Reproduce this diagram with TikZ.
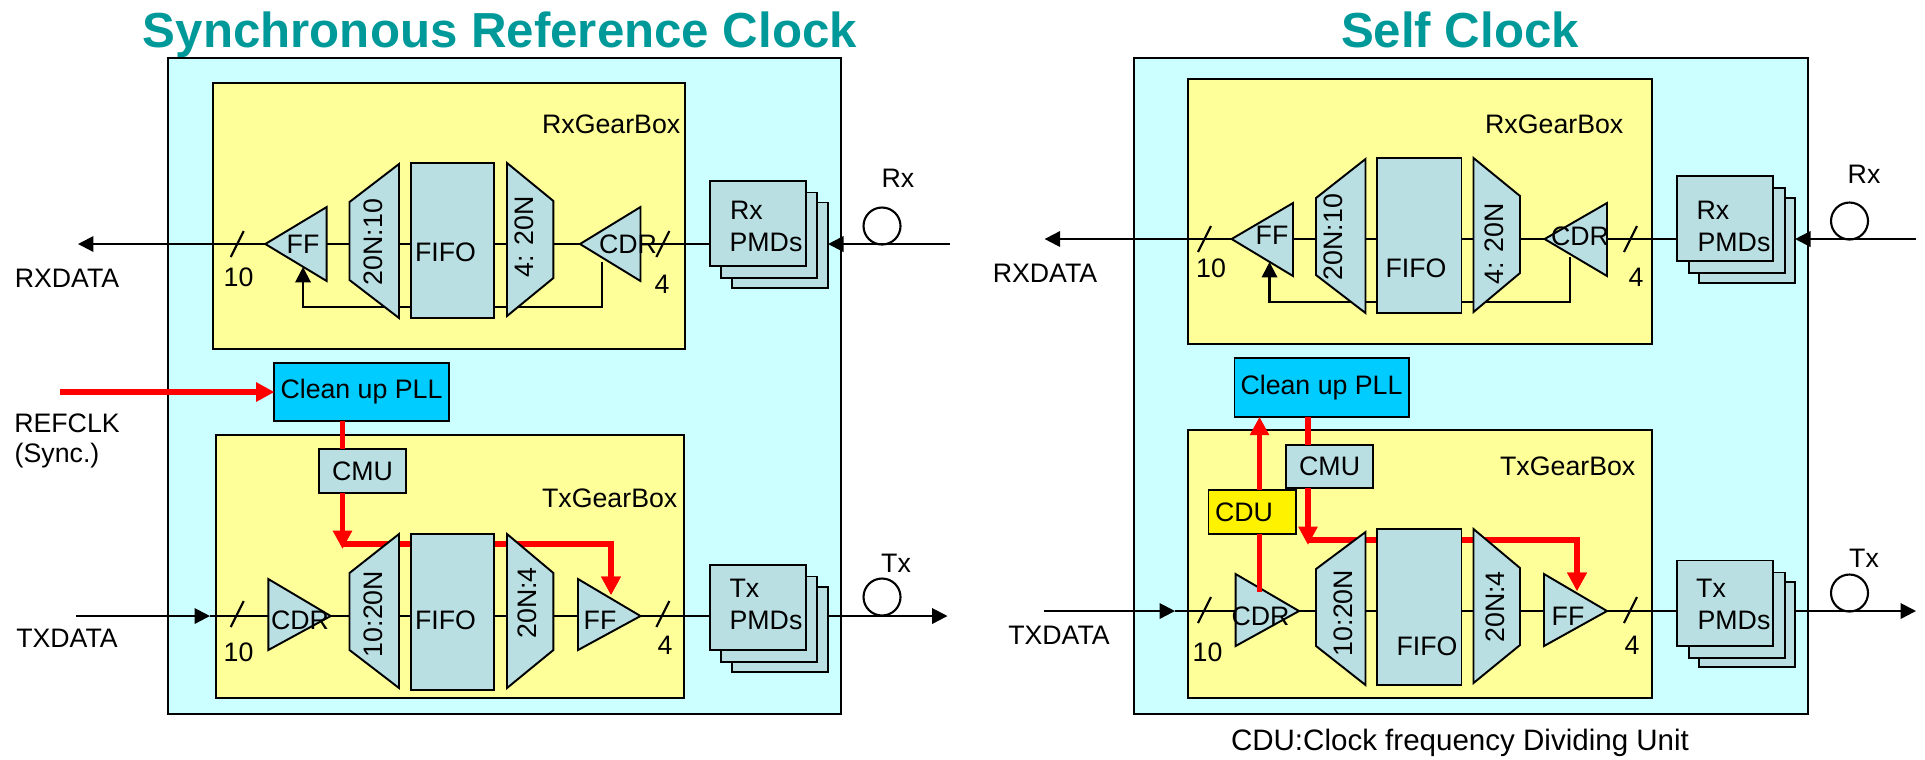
\documentclass[tikz,border=0pt]{standalone}
\usepackage{fontspec}
\setmainfont{Liberation Sans}
\usetikzlibrary{arrows.meta}
\definecolor{panelcol}{HTML}{CCFFFF}
\definecolor{gearcol}{HTML}{FFFF99}
\definecolor{partcol}{HTML}{B9DFE3}
\definecolor{pllcol}{HTML}{00CCFF}
\definecolor{titlecol}{HTML}{009999}

\begin{document}
\begin{tikzpicture}[x=0.01cm, y=-0.01cm, >={Triangle[length=4.4pt,width=4.4pt]},
    lbl/.style={inner sep=0pt, font=\fontsize{7.6}{9}\selectfont},
    title/.style={inner sep=0pt, anchor=base, text=titlecol, font=\fontsize{14}{16}\selectfont\bfseries},
    box/.style={draw=black, line width=0.55pt, inner sep=0pt, outer sep=0pt},
    panel/.style={box, fill=panelcol, minimum width=6.73cm, minimum height=6.56cm},
    gear/.style={box, fill=gearcol},
    part/.style={draw=black, line width=0.55pt, fill=partcol},
    pmd/.style={box, fill=partcol, minimum width=0.96cm, minimum height=0.85cm},
    pll/.style={box, fill=pllcol, minimum width=1.74cm, minimum height=0.585cm, font=\fontsize{7.6}{9}\selectfont},
    cmu/.style={box, fill=partcol, minimum width=0.87cm, minimum height=0.435cm, font=\fontsize{7.6}{9}\selectfont},
    wire/.style={line width=0.6pt},
    clk/.style={red, line width=1.6pt, -{Triangle[length=5.2pt,width=5.2pt]}},
    clkline/.style={red, line width=1.6pt}]
  \useasboundingbox (0,0) rectangle (1925,759);
  % left: synchronous reference clock
  \begin{scope}
    \node[title] (ltitle) at (500,47) {Synchronous Reference Clock};
    \node[panel] (lpanel) at (504.5,386) {};
    \node[gear, minimum width=4.715cm, minimum height=2.66cm] (lrxgear) at (448.8,216) {};
    \node[gear, minimum width=4.68cm, minimum height=2.63cm] (ltxgear) at (450,566.5) {};
    \node[pll] (lpll) at (361.5,392) {Clean up PLL};
    \node[cmu] (lcmu) at (362.5,471) {CMU};
    \node[pmd] (lrxc) at (780,245) {};
    \node[pmd] (lrxb) at (769,235) {};
    \node[pmd] (lrxa) at (758,223.5) {};
    \node[pmd] (ltxc) at (780,629.5) {};
    \node[pmd] (ltxb) at (769,619) {};
    \node[pmd] (ltxa) at (758,607.5) {};
    \coordinate (lrxin) at (950,244);
    \coordinate (lrxout) at (78,244);
    \coordinate (ltxin) at (76,616);
    \coordinate (ltxgo) at (210,616);
    \coordinate (ltxout) at (947.5,616);
    \coordinate (lrefin) at (60,392);
    \coordinate (lcmuend) at (342.5,549);
    \coordinate (lturn) at (342.5,544);
    \coordinate (lffin) at (611,595);
    \draw[wire, ->] (lrxin) -- (lrxc.east |- lrxin);
    \draw[wire, ->] (lrxa.west |- lrxout) -- (lrxout);
    \draw[wire, ->] (ltxin) -- (ltxgo);
    \draw[wire] (ltxgo) -- (ltxa.west |- ltxgo);
    \draw[wire, ->] (ltxc.east |- ltxout) -- (ltxout);
    \draw[wire, ->] (602.4,262) |- (303,307) -- (303,267);
    % clock path runs behind the parts
    \draw[clk] (lrefin) -- (lpll.west);
    \draw[clkline] (lturn |- lpll.south) -- (lturn |- lcmu.north);
    \draw[clk] (lturn |- lcmu.south) -- (lcmuend);
    \draw[clk] (lturn) -| (lffin);
    \foreach \xa/\xb/\ya/\yb/\yc/\yd in {265.3/326.7/244/244/207/281, 349.5/399/202/280/164/318,
        411/494/163/318/163/318, 507/553.4/163/316/201/278, 580/640.5/244/244/207/281,
        268.3/330.7/579/650/616/616, 349.5/399/573/650/534/688, 411/494/534/690/534/690,
        507/553.4/534/688/573/650, 578/640.5/579/650/616/616}
      \draw[part] (\xa,\ya) -- (\xb,\yc) -- (\xb,\yd) -- (\xa,\yb) -- cycle;
    \draw[clk] (611,585) -- (lffin);
    \foreach \x/\y in {230.7/257, 656.4/257, 230.7/627, 656.4/627}
      \draw[wire] (\x,\y) -- ++(13,-26);
    \draw[wire] (882,226) circle (18.5);
    \draw[wire] (882,597) circle (18.5);
    \foreach \n/\x/\y/\t in {lff/303/244/FF, lfifo/445.5/252/FIFO, lcdr/628/244/CDR, lten/238.6/277/10, lfour/662/284/4,
        lrxlbl/898/178/Rx, lrxd/67/278/RXDATA, lref/67/423/REFCLK, lcdrt/300/620/CDR, lfifot/445.5/620/FIFO,
        lfft/600/620/FF, ltent/238.6/652/10, lfourt/665/645/4, ltxlbl/896/563/Tx, ltxd/67/638/TXDATA,
        lrxpm/766/242/PMDs, ltxpm/766/620/PMDs, lrxr/746.5/210/Rx, ltxt/744.5/588/Tx}
      \node[lbl] (\n) at (\x,\y) {\t};
    \foreach \n/\x/\y/\t in {lrot/373/242/20N:10, lrotb/524/237/{4: 20N}, lrott/373/614/10:20N, lrotc/527/603/20N:4}
      \node[lbl, rotate=90] (\n) at (\x,\y) {\t};
    \node[lbl, anchor=west] (lsync) at (14,456) {(Sync.)};
    \node[lbl, anchor=east] (lrxname) at (681,124) {RxGearBox};
    \node[lbl, anchor=east] (ltxname) at (678,498) {TxGearBox};
  \end{scope}
  % right: self clock
  \begin{scope}
    \node[title] (rtitle) at (1460,47) {Self Clock};
    \node[panel] (rpanel) at (1471,386) {};
    \node[gear, minimum width=4.645cm, minimum height=2.65cm] (rrxgear) at (1420,211.5) {};
    \node[gear, minimum width=4.645cm, minimum height=2.68cm] (rtxgear) at (1420,564) {};
    \node[pll] (rpll) at (1321.5,387.5) {Clean up PLL};
    \node[cmu] (rcmu) at (1329.6,466.5) {CMU};
    \node[cmu, fill=yellow] (rcdu) at (1252,512) {CDU\hspace*{0.16cm}};
    \node[pmd] (rrxc) at (1747,240.5) {};
    \node[pmd] (rrxb) at (1737,230.5) {};
    \node[pmd] (rrxa) at (1725,218.5) {};
    \node[pmd] (rtxc) at (1747,624.5) {};
    \node[pmd] (rtxb) at (1737,615) {};
    \node[pmd] (rtxa) at (1725,603) {};
    \coordinate (rrxin) at (1916,239);
    \coordinate (rrxout) at (1044.6,239);
    \coordinate (rtxin) at (1043.6,611);
    \coordinate (rtxgo) at (1175,611);
    \coordinate (rtxout) at (1916,611);
    \coordinate (rcmuend) at (1308,545);
    \coordinate (rturn) at (1308,540);
    \coordinate (rffin) at (1577,591);
    \coordinate (rcdrtop) at (1259.5,592);
    \draw[wire, ->] (rrxin) -- (rrxc.east |- rrxin);
    \draw[wire, ->] (rrxa.west |- rrxout) -- (rrxout);
    \draw[wire, ->] (rtxin) -- (rtxgo);
    \draw[wire] (rtxgo) -- (rtxa.west |- rtxgo);
    \draw[wire, ->] (rtxc.east |- rtxout) -- (rtxout);
    \draw[wire, ->] (1570,257) |- (1269.5,302) -- (1269.5,262);
    % clock path runs behind the parts
    \draw[clkline] (rturn |- rpll.south) -- (rturn |- rcmu.north);
    \draw[clk] (rturn |- rcmu.south) -- (rcmuend);
    \draw[clk] (rturn) -| (rffin);
    \foreach \xa/\xb/\ya/\yb/\yc/\yd in {1231.6/1293/239/239/203/276, 1316/1365.5/198/275/159/313,
        1377/1461.5/158/313/158/313, 1473.5/1520/158/312/196/273, 1544.6/1607/239/239/203/276,
        1235.6/1299/574/646/611/611, 1316/1365.5/569/646/532/685, 1377/1461.5/529/685/529/685,
        1473.5/1520/529/683/568/645, 1544/1607/574/646/611/611}
      \draw[part] (\xa,\ya) -- (\xb,\yc) -- (\xb,\yd) -- (\xa,\yb) -- cycle;
    \draw[clk] (1577,581) -- (rffin);
    \draw[clkline] (rcdrtop) -- (rcdrtop |- rcdu.south);
    \draw[clk] (rcdrtop |- rcdu.north) -- (rcdrtop |- rpll.south);
    \foreach \x/\y in {1198/252, 1624/252, 1198/623, 1624/623}
      \draw[wire] (\x,\y) -- ++(13,-26);
    \draw[wire] (1849.5,221) circle (18.5);
    \draw[wire] (1849.5,593) circle (18.5);
    \foreach \n/\x/\y/\t in {rff/1272/235/FF, rfifo/1416/268/FIFO, rcdr/1580/236/CDR, rten/1211/268/10, rfour/1636/277/4,
        rrxlbl/1864/174/Rx, rrxd/1045/273/RXDATA, rcdrt/1260.5/616/CDR, rfifot/1427/646/FIFO,
        rfft/1568/616/FF, rtent/1207.5/652/10, rfourt/1632/645/4, rtxlbl/1864/558/Tx, rtxd/1059/635/TXDATA,
        rrxpm/1734/242/PMDs, rtxpm/1734/620/PMDs, rrxr/1713/210/Rx, rtxt/1711/588/Tx}
      \node[lbl] (\n) at (\x,\y) {\t};
    \foreach \n/\x/\y/\t in {rrot/1333/237/20N:10, rrotb/1494.5/244/{4: 20N}, rrott/1343/613/10:20N, rrotc/1495.5/607/20N:4}
      \node[lbl, rotate=90] (\n) at (\x,\y) {\t};
    \node[lbl, anchor=east] (rrxname) at (1624,124) {RxGearBox};
    \node[lbl, anchor=east] (rtxname) at (1636,466) {TxGearBox};
    \node[lbl, font=\fontsize{8.4}{10}\selectfont] (rnote) at (1460,743) {CDU:Clock frequency Dividing Unit};
  \end{scope}
\end{tikzpicture}
\end{document}
